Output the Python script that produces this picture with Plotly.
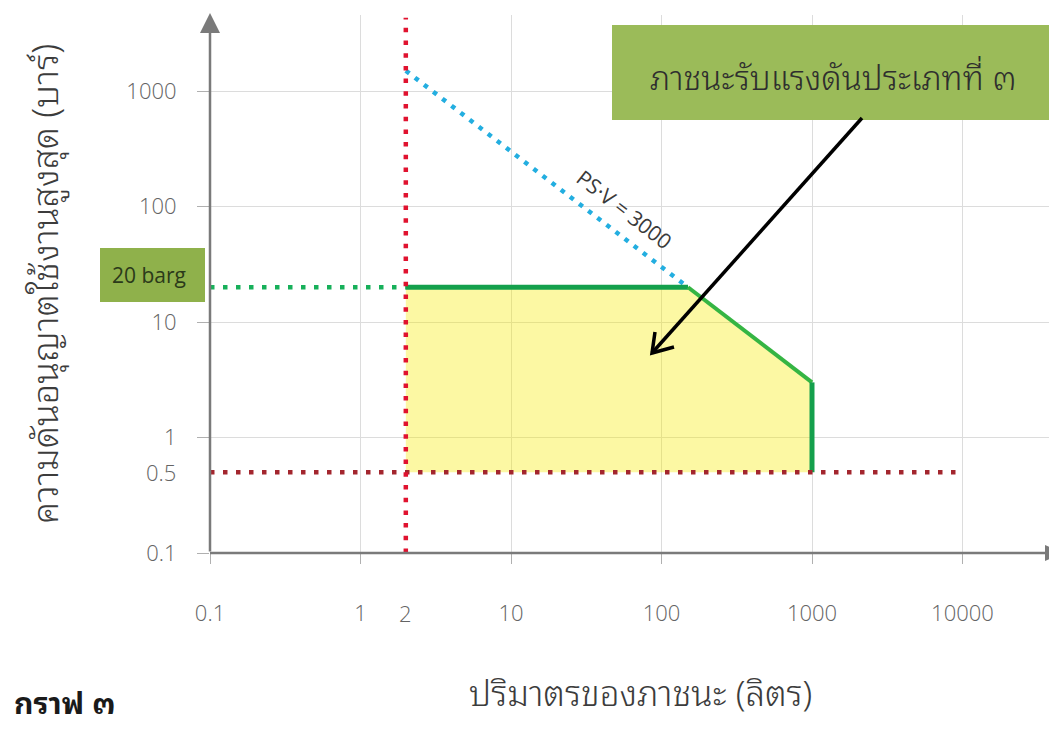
import math
import plotly.graph_objects as go

# ---- data (volume in litres, pressure in bar) ----
x_tick_vals = [0.1, 1, 10, 100, 1000, 10000]
x_tick_text = ["0.1", "1", "10", "100", "1000", "10000"]
y_tick_vals = [0.1, 1, 10, 100, 1000]
y_tick_text = ["0.1", "1", "10", "100", "1000"]
extra_x_label = [2]          # labelled without tick / grid
extra_y_label = [0.5]

# region boundary for vessel category
boundary_v = [2, 2, 150, 1000, 1000]
boundary_p = [0.5, 20, 20, 3, 0.5]

# PS·V = 3000 line
psv_v = [2, 150]
psv_p = [1500, 20]

# limit lines
vmin_line_v = [2, 2]
vmin_line_p = [0.1, 4300]
pmin_line_v = [0.1, 9000]
pmin_line_p = [0.5, 0.5]
p20_line_v = [0.1, 2]
p20_line_p = [20, 20]

# ---- page geometry ----
W, H = 1049, 729
ML, MR, MT, MB = 210, 0, 15, 176
PW, PH = W - ML - MR, H - MT - MB
X_DEC, Y_DEC = 150.5, 115.5   # pixels per decade
x_range = [-1, -1 + PW / X_DEC]
y_range = [-1, -1 + PH / Y_DEC]


def px(xp):
    return (xp - ML) / PW


def py(yp):
    return (H - MB - yp) / PH


THAI = ("Noto Sans Thai Looped, Noto Serif Thai, Loma, Garuda, Norasi, Kinnari, "
        "Noto Sans Thai, sans-serif")
TICK_FONT = dict(family="Open Sans, Liberation Sans, sans-serif", size=22, color="#646464",
                 weight=300)
DOT = "4.5px,8.5px"
AXIS_GRAY = "#7a7a7a"

fig = go.Figure()

# yellow category region
fig.add_trace(go.Scatter(
    x=boundary_v, y=boundary_p, mode="lines", fill="toself",
    fillcolor="rgba(248,236,0,0.36)", line=dict(width=0),
    hoverinfo="skip", showlegend=False))

# dotted guides
fig.add_trace(go.Scatter(x=p20_line_v, y=p20_line_p, mode="lines",
                         line=dict(color="#17b05a", width=4.5, dash=DOT),
                         showlegend=False, hoverinfo="skip"))
fig.add_trace(go.Scatter(x=psv_v, y=psv_p, mode="lines",
                         line=dict(color="#23aee0", width=4.5, dash="4.5px,7px"),
                         showlegend=False, hoverinfo="skip"))

# green boundary of the region
fig.add_trace(go.Scatter(x=boundary_v[1:3], y=boundary_p[1:3], mode="lines",
                         line=dict(color="#14a04c", width=5),
                         showlegend=False, hoverinfo="skip"))
fig.add_trace(go.Scatter(x=boundary_v[2:4], y=boundary_p[2:4], mode="lines",
                         line=dict(color="#35b543", width=4),
                         showlegend=False, hoverinfo="skip"))
fig.add_trace(go.Scatter(x=boundary_v[3:5], y=boundary_p[3:5], mode="lines",
                         line=dict(color="#14a04c", width=5),
                         showlegend=False, hoverinfo="skip"))

fig.add_trace(go.Scatter(x=pmin_line_v, y=pmin_line_p, mode="lines",
                         line=dict(color="#a3262e", width=4.5, dash=DOT),
                         showlegend=False, hoverinfo="skip"))
fig.add_trace(go.Scatter(x=vmin_line_v, y=vmin_line_p, mode="lines",
                         line=dict(color="#e0122f", width=4.5, dash="4.5px,8.2px"),
                         showlegend=False, hoverinfo="skip"))

annotations = []
shapes = []

# y axis with arrow head at the top
annotations.append(dict(xref="paper", yref="paper", x=0, y=py(13), ax=0, ay=H - MB - 13,
                        axref="pixel", ayref="pixel", showarrow=True, text="",
                        arrowhead=2, arrowsize=1.6, arrowwidth=2.5, arrowcolor=AXIS_GRAY))
# x axis running off the right edge, arrow head just beginning at the border
shapes.append(dict(type="line", xref="paper", yref="paper", x0=0, x1=px(1049), y0=0, y1=0,
                   line=dict(color=AXIS_GRAY, width=2.5), layer="above"))
shapes.append(dict(type="path", xref="paper", yref="paper",
                   path=f"M {px(1045)},{py(545)} L {px(1063)},0 L {px(1045)},{py(561)} Z",
                   fillcolor=AXIS_GRAY, line=dict(width=0), layer="above"))

# tick labels without tick marks
for v in extra_x_label:
    annotations.append(dict(xref="x", yref="paper", x=math.log10(v), y=py(613),
                            xanchor="center", yanchor="middle",
                            text=str(v), showarrow=False, font=TICK_FONT))
for v in extra_y_label:
    annotations.append(dict(xref="paper", yref="y", x=px(178), y=math.log10(v),
                            xanchor="right", yanchor="middle",
                            text=str(v), showarrow=False, font=TICK_FONT))

# axis titles
annotations.append(dict(xref="paper", yref="paper", x=px(42), y=py(284), textangle=-90,
                        xanchor="center", yanchor="middle",
                        text="ความดันอนุญาตใช้งานสูงสุด (บาร์)", showarrow=False,
                        font=dict(family=THAI, size=36, color="#3c3c3c", weight=300)))
annotations.append(dict(xref="paper", yref="paper", x=px(640), y=py(690),
                        xanchor="center", yanchor="middle",
                        text="ปริมาตรของภาชนะ (ลิตร)", showarrow=False,
                        font=dict(family=THAI, size=35, color="#3c3c3c", weight=300)))
annotations.append(dict(xref="paper", yref="paper", x=px(12), y=py(700),
                        xanchor="left", yanchor="middle",
                        text="<b>กราฟ ๓</b>", showarrow=False,
                        font=dict(family=THAI, size=30, color="#1a1a1a")))

# PS·V label along the dotted line
annotations.append(dict(xref="paper", yref="paper", x=px(624), y=py(209), textangle=37.8,
                        xanchor="center", yanchor="middle",
                        text="PS·V = 3000", showarrow=False,
                        font=dict(family="Open Sans, Liberation Sans, sans-serif", size=21,
                                  color="#3a3a3a")))

# label boxes
shapes.append(dict(type="rect", xref="paper", yref="paper", x0=px(100), x1=px(205),
                   y0=py(302), y1=py(248),
                   fillcolor="#8fb14b", line=dict(width=0), layer="above"))
shapes.append(dict(type="rect", xref="paper", yref="paper", x0=px(612), x1=px(1070),
                   y0=py(120), y1=py(25),
                   fillcolor="#9bbb59", line=dict(width=0), layer="above"))
annotations.append(dict(xref="paper", yref="paper", x=px(110), y=py(275),
                        xanchor="left", yanchor="middle",
                        text="20 barg", showarrow=False,
                        font=dict(family="Open Sans, Liberation Sans, sans-serif", size=21,
                                  color="#2b3a1a")))
annotations.append(dict(xref="paper", yref="paper", x=px(648), y=py(76),
                        xanchor="left", yanchor="middle",
                        text="ภาชนะรับแรงดันประเภทที่ ๓", showarrow=False,
                        font=dict(family=THAI, size=33, color="#2e2e2e", weight=300)))

# pointer arrow from the box to the region (open V head)
tip_x, tip_y = 652, 353
tail_x, tail_y = 862, 118
shapes.append(dict(type="line", xref="paper", yref="paper",
                   x0=px(tail_x), y0=py(tail_y), x1=px(tip_x), y1=py(tip_y),
                   line=dict(color="#000000", width=3.5), layer="above"))
shapes.append(dict(type="path", xref="paper", yref="paper",
                   path=f"M {px(655)},{py(332)} L {px(tip_x)},{py(tip_y)} L {px(674)},{py(347)}",
                   line=dict(color="#000000", width=3.5), layer="above"))

fig.update_layout(
    width=W, height=H,
    margin=dict(l=ML, r=MR, t=MT, b=MB),
    paper_bgcolor="white", plot_bgcolor="white",
    showlegend=False,
    xaxis=dict(type="log", range=x_range, tickvals=x_tick_vals, ticktext=x_tick_text,
               showgrid=True, gridcolor="#dcdcdc", gridwidth=1, zeroline=False,
               showline=False, ticks="outside", ticklen=10, tickcolor="#b0b0b0",
               ticklabelstandoff=31, tickfont=TICK_FONT),
    yaxis=dict(type="log", range=y_range, tickvals=y_tick_vals, ticktext=y_tick_text,
               showgrid=True, gridcolor="#dcdcdc", gridwidth=1, zeroline=False,
               showline=False, ticks="outside", ticklen=12, tickcolor="#b0b0b0",
               ticklabelstandoff=16, tickfont=TICK_FONT),
    shapes=shapes,
    annotations=annotations,
)

fig.write_html("out.html")
